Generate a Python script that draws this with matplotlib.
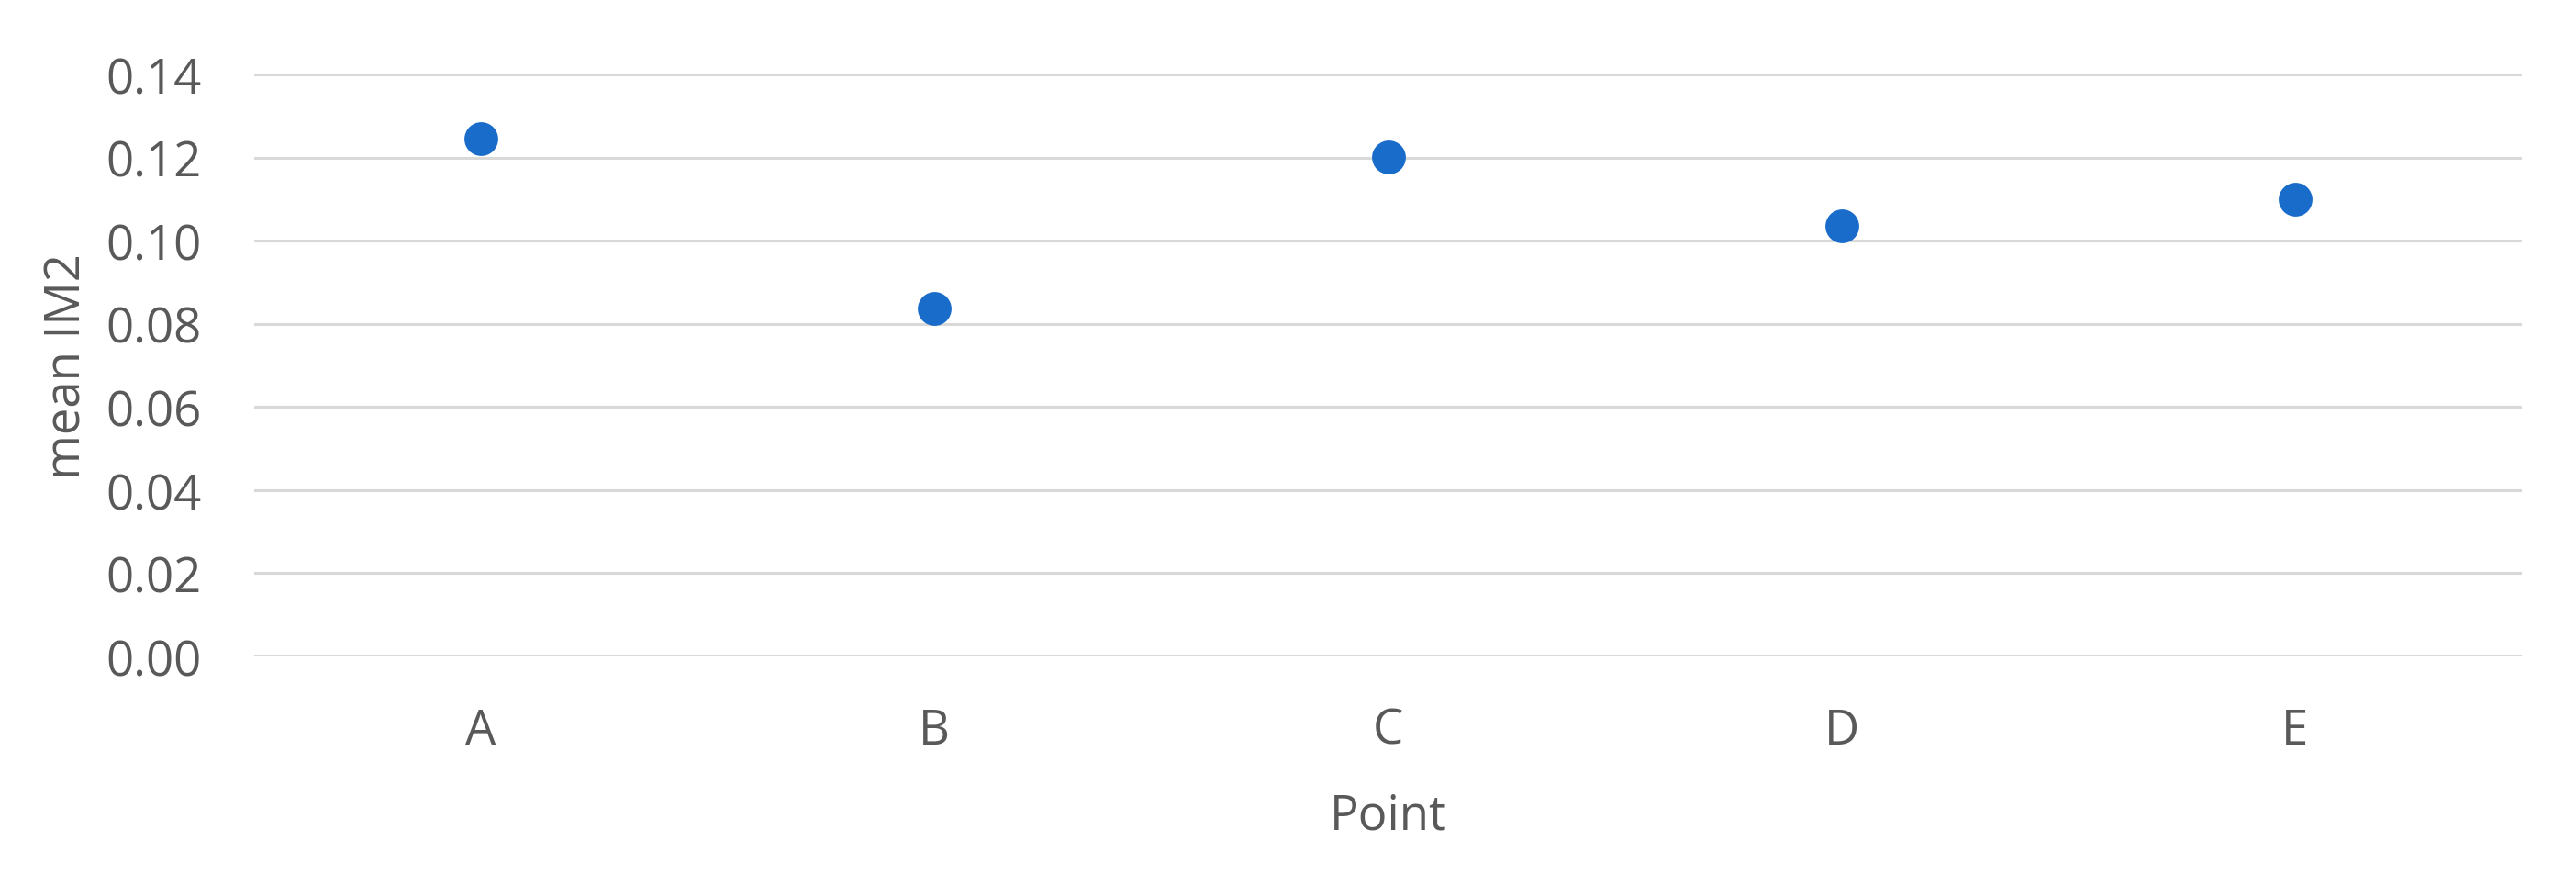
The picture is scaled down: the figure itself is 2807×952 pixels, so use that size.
import matplotlib
matplotlib.use("Agg")
import matplotlib.pyplot as plt
import numpy as np

categories = ["A", "B", "C", "D", "E"]
mean_im2 = [0.1246, 0.0838, 0.1202, 0.1036, 0.1100]
y_ticks = [0.00, 0.02, 0.04, 0.06, 0.08, 0.10, 0.12, 0.14]

plt.rcParams['font.family'] = ['Open Sans', 'DejaVu Sans']
text_color = '#595959'

fig = plt.figure(figsize=(28.07, 9.53), dpi=100)
ax_left, ax_right, ax_top, ax_bottom = 277, 2748, 82, 716
ax = fig.add_axes([ax_left/2807, 1 - ax_bottom/953,
                   (ax_right-ax_left)/2807, (ax_bottom-ax_top)/953])

x = np.arange(len(categories))
ax.plot(x, mean_im2, linestyle='none', marker='o', markersize=26.5,
        color='#1a6cca', markeredgewidth=0, zorder=3)

ax.set_xlim(-0.5, len(categories) - 0.5)
ax.set_ylim(0, 0.14)
ax.set_yticks(y_ticks)
ax.set_yticklabels([f"{v:.2f}" for v in y_ticks])
ax.set_xticks(x)
ax.set_xticklabels(categories)
ax.yaxis.grid(True, color='#d9d9d9', linewidth=2.2)
ax.set_axisbelow(True)
for s in ax.spines.values():
    s.set_visible(False)
ax.tick_params(axis='both', length=0, labelsize=38, colors=text_color)
ax.tick_params(axis='y', pad=41)
ax.tick_params(axis='x', pad=39)
ax.set_xlabel("Point", fontsize=38, color=text_color, labelpad=28)
ax.set_ylabel("mean IM2", fontsize=38, color=text_color)
ax.yaxis.set_label_coords((101 - ax_left) / (ax_right - ax_left), 0.5)

fig.savefig("out.png", dpi=100, facecolor='white')
